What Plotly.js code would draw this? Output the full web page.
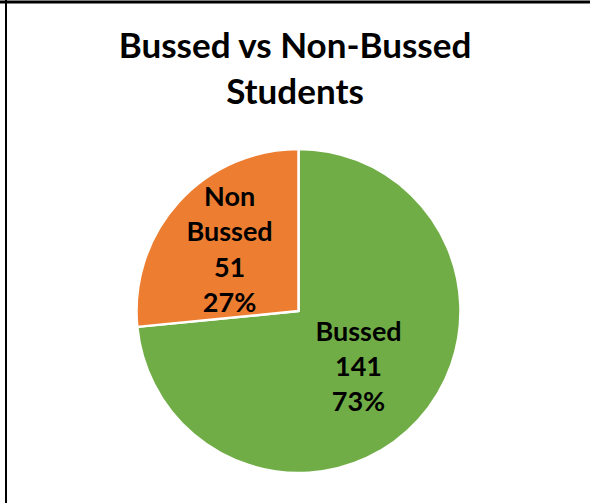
<!DOCTYPE html>
<html>
<head>
<meta charset="utf-8">
<script src="https://cdn.plot.ly/plotly-3.0.1.min.js"></script>
<style>
html,body{margin:0;padding:0;background:#fff;}
#chart{width:590px;height:503px;}
</style>
</head>
<body>
<div id="chart"></div>
<script>
const labels = ["Bussed", "Non<br>Bussed"];
const values = [141, 51];
const colors = ["#70AD47", "#ED7D31"];
const chartTitle = "Bussed vs Non-Bussed<br>Students";

const trace = {
  type: "pie",
  labels: labels,
  values: values,
  sort: false,
  direction: "clockwise",
  rotation: 0,
  marker: {colors: colors, line: {color: "#ffffff", width: 2.5}},
  texttemplate: "%{label}<br>%{value}<br>%{percent:.0%}",
  textposition: "inside",
  insidetextorientation: "horizontal",
  textfont: {family: "Lato, 'Open Sans', sans-serif", size: 27, color: "#000000", weight: "bold"},
  hoverinfo: "none",
  domain: {x: [136.5/590, 460.5/590], y: [30/503, 354/503]},
  showlegend: false
};

const layout = {
  width: 590,
  height: 503,
  margin: {l: 0, r: 0, t: 0, b: 0},
  paper_bgcolor: "#ffffff",
  title: {
    text: chartTitle,
    font: {family: "Lato, 'Open Sans', sans-serif", size: 35, color: "#000000", weight: "bold"},
    x: 0.5, xanchor: "center",
    y: 0.884, yanchor: "top", yref: "container"
  },
  uniformtext: {mode: "show", minsize: 27},
  shapes: [
    {type: "line", xref: "paper", yref: "paper", x0: 0, x1: 1, y0: 1 - 2/503, y1: 1 - 2/503, line: {color: "#000", width: 3}},
    {type: "line", xref: "paper", yref: "paper", x0: 6/590, x1: 6/590, y0: 0, y1: 1, line: {color: "#000", width: 2}}
  ]
};

Plotly.newPlot("chart", [trace], layout, {displayModeBar: false, staticPlot: true});
</script>
</body>
</html>
